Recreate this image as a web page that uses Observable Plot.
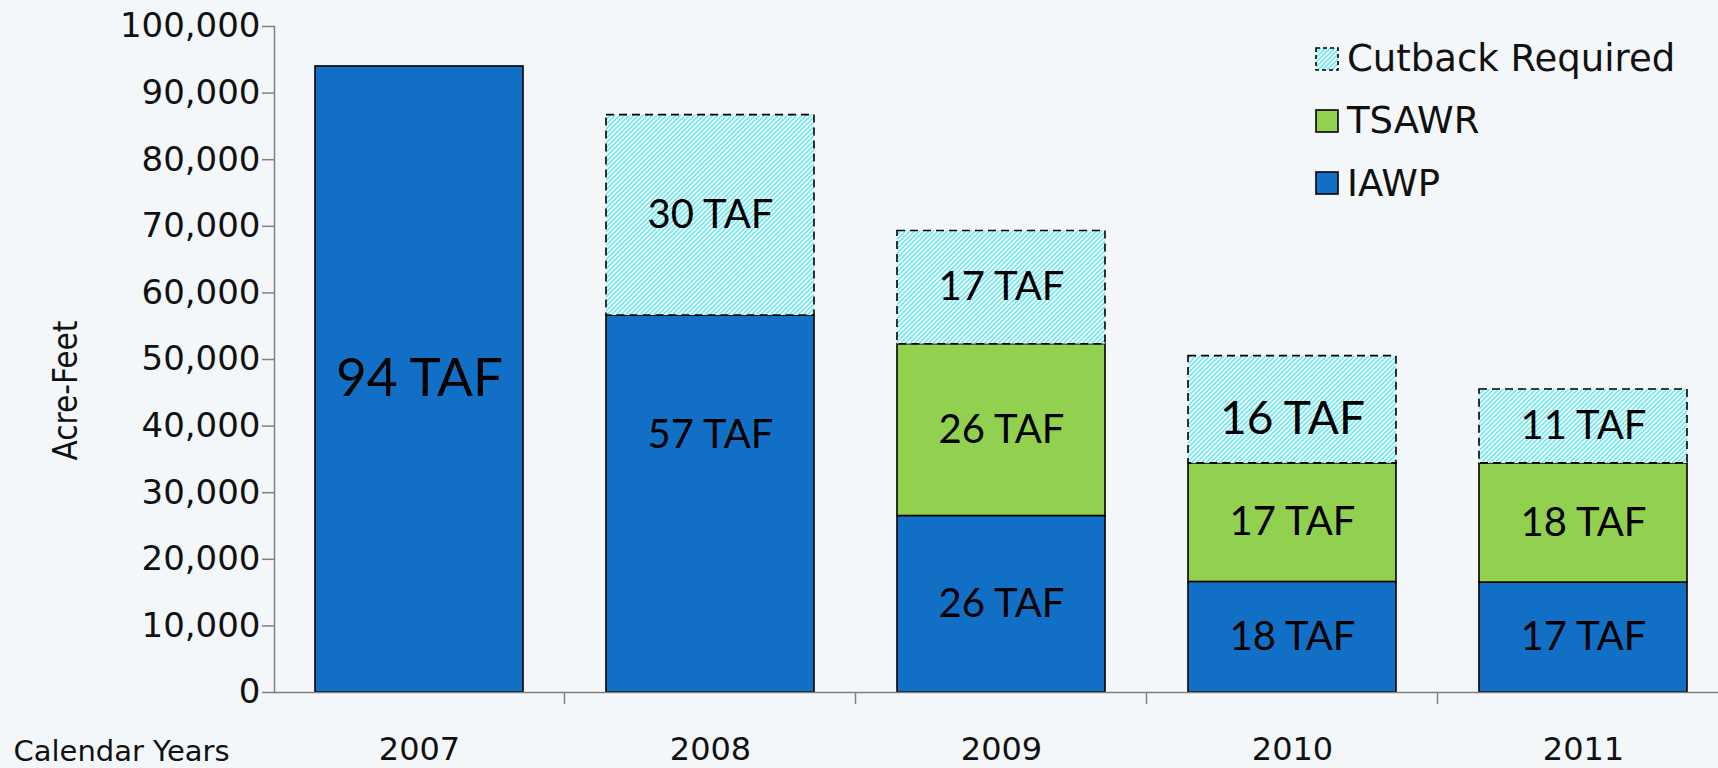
<!DOCTYPE html>
<html><head><meta charset="utf-8">
<script src="https://cdn.jsdelivr.net/npm/d3@7"></script>
<script src="https://cdn.jsdelivr.net/npm/@observablehq/plot@0.6"></script>
<style>
html,body{margin:0;padding:0;background:#f4f7fa;}
#wrap{position:relative;width:1718px;height:768px;overflow:hidden;background:#f4f7fa;}
.lg{position:absolute;left:1315px;height:40px;display:flex;align-items:center;font-family:"DejaVu Sans",sans-serif;font-size:37px;color:#111;white-space:nowrap;}
.lg svg{margin-right:8px;display:block;}
</style></head><body>
<svg width="0" height="0" style="position:absolute"><defs>
<pattern id="hatch" patternUnits="userSpaceOnUse" width="3.3" height="3.3" patternTransform="rotate(45)">
<rect width="3.3" height="3.3" fill="#f3fbfd"/>
<line x1="1.65" y1="0" x2="1.65" y2="3.3" stroke="#74eaf3" stroke-width="1.7"/>
</pattern></defs></svg>
<div id="wrap"></div>
<script>
// ---- data ----
const years = ["2007", "2008", "2009", "2010", "2011"];
const seriesNames = ["IAWP", "TSAWR", "Cutback Required"];
const iawp = [94000, 56600, 26500, 16600, 16500];
const tsawr = [0, 0, 25800, 17800, 17900];
const cutback = [0, 30100, 17000, 16100, 11100];
const iawpLabels = ["94 TAF", "57 TAF", "26 TAF", "18 TAF", "17 TAF"];
const tsawrLabels = ["", "", "26 TAF", "17 TAF", "18 TAF"];
const cutbackLabels = ["", "30 TAF", "17 TAF", "16 TAF", "11 TAF"];
const yTicks = [0, 10000, 20000, 30000, 40000, 50000, 60000, 70000, 80000, 90000, 100000];

// ---- styles ----
const colors = {"IAWP": "#1170c6", "TSAWR": "#92d050"};
const labelSize = {"2007|IAWP": 53, "2010|Cutback Required": 46};
const labelLift = {"2008|IAWP": 10400, "2010|Cutback Required": -1400}; // acre-feet the label sits above its segment middle

// ---- table ----
const rows = [];
years.forEach((yr, i) => {
  let base = 0;
  [[iawp, iawpLabels, "IAWP"], [tsawr, tsawrLabels, "TSAWR"], [cutback, cutbackLabels, "Cutback Required"]]
    .forEach(([vals, labs, name]) => {
      const v = vals[i];
      if (v > 0) rows.push({year: yr, series: name, y1: base, y2: base + v, label: labs[i]});
      base += v;
    });
});
const solid = rows.filter(d => d.series !== "Cutback Required");
const cut = rows.filter(d => d.series === "Cutback Required");
const key = d => d.year + "|" + d.series;

const plot = Plot.plot({
  width: 1718, height: 768,
  marginLeft: 274, marginRight: 0, marginTop: 26, marginBottom: 76,
  style: {background: "transparent"},
  x: {type: "band", domain: years, range: [274, 1729], paddingInner: 0.285, paddingOuter: 0.1425},
  y: {domain: [0, 100000]},
  color: {domain: ["IAWP", "TSAWR"], range: [colors.IAWP, colors.TSAWR]},
  marks: [
    Plot.barY(solid, {x: "year", y1: "y1", y2: "y2", fill: "series", stroke: "#000", strokeWidth: 1.6}),
    Plot.barY(cut, {x: "year", y1: "y1", y2: "y2", fill: "url(#hatch)", stroke: "#000", strokeWidth: 1.6, strokeDasharray: "8,5"}),
    Plot.text(rows, {
      x: "year",
      y: d => (d.y1 + d.y2) / 2 + (labelLift[key(d)] || 0),
      text: "label",
      fontSize: d => labelSize[key(d)] || 40,
      fontFamily: "Lato, 'Open Sans', sans-serif",
      fill: "#000"
    }),
    Plot.frame({anchor: "left", stroke: "#808080", strokeWidth: 1.5}),
    Plot.frame({anchor: "bottom", stroke: "#808080", strokeWidth: 1.5}),
    Plot.axisY({ticks: yTicks, tickFormat: d3.format(","), tickSize: 12, tickPadding: 2,
      fontSize: 34, fontFamily: "DejaVu Sans", stroke: "#808080", strokeWidth: 1.5, fill: "#111", label: null}),
    Plot.axisX({tickSize: 0, tickPadding: 45, fontSize: 32, fontFamily: "DejaVu Sans", fill: "#111", label: null}),
    Plot.text(["Acre-Feet"], {frameAnchor: "left", dx: -208, dy: 31, rotate: -90, textAnchor: "middle", lineAnchor: "middle",
      fontSize: 33, fontFamily: "'Liberation Sans Narrow', 'DejaVu Sans Condensed', sans-serif", fill: "#111"}),
    Plot.text(["Calendar Years"], {frameAnchor: "bottom-left", dx: -261, dy: 59, textAnchor: "start", lineAnchor: "middle",
      fontSize: 29, fontFamily: "DejaVu Sans", fill: "#111"})
  ]
});

// category boundary ticks below the axis
const xs = plot.scale("x"), ys = plot.scale("y");
const step = xs.step, bw = xs.bandwidth;
const y0 = ys.apply(0);
d3.select(plot).append("g").selectAll("line").data(years).join("line")
  .attr("x1", d => xs.apply(d) + bw + (step - bw) / 2)
  .attr("x2", d => xs.apply(d) + bw + (step - bw) / 2)
  .attr("y1", y0).attr("y2", y0 + 12)
  .attr("stroke", "#808080").attr("stroke-width", 1.5);

const wrap = document.getElementById("wrap");
wrap.appendChild(plot);

// legend
const legendItems = [
  {name: "Cutback Required", fill: "url(#hatch)", dash: "4,3", top: 38.5},
  {name: "TSAWR", fill: colors.TSAWR, dash: null, top: 100.5},
  {name: "IAWP", fill: colors.IAWP, dash: null, top: 163}
];
legendItems.forEach(it => {
  const div = document.createElement("div");
  div.className = "lg";
  div.style.top = it.top + "px";
  div.innerHTML = `<svg width="24" height="24"><rect x="1" y="1" width="22" height="22" fill="${it.fill}" stroke="#000" stroke-width="1.6" ${it.dash ? `stroke-dasharray="${it.dash}"` : ""}/></svg><span>${it.name}</span>`;
  wrap.appendChild(div);
});
</script>
</body></html>
